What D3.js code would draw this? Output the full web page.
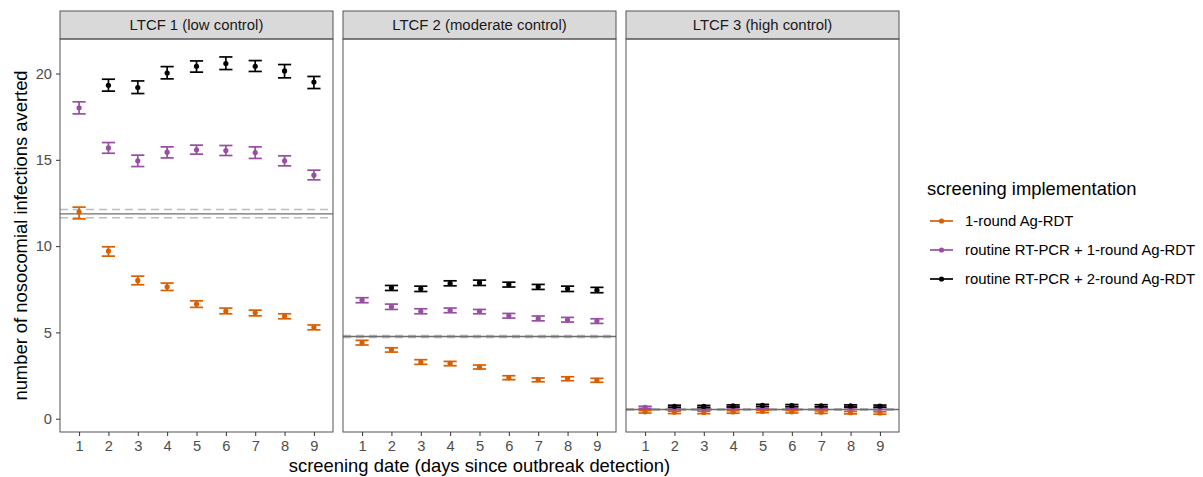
<!DOCTYPE html>
<html>
<head>
<meta charset="utf-8">
<script src="https://cdn.jsdelivr.net/npm/d3@7"></script>
<style>
  body { margin: 0; background: #fff; }
  svg { font-family: "Liberation Sans", Arial, sans-serif; }
</style>
</head>
<body>
<div id="chart"></div>
<script>

var days = [1, 2, 3, 4, 5, 6, 7, 8, 9];
var facets = ["LTCF 1 (low control)", "LTCF 2 (moderate control)", "LTCF 3 (high control)"];
var seriesNames = ["1-round Ag-RDT", "routine RT-PCR + 1-round Ag-RDT", "routine RT-PCR + 2-round Ag-RDT"];
var seriesColors = ["#D95F02", "#984EA3", "#000000"];
var yTicks = [0, 5, 10, 15, 20];

// reference lines per facet: solid (baseline), dashed (interval)
var refMid = [11.87, 4.76, 0.53];
var refLo = [11.64, 4.71, 0.49];
var refHi = [12.12, 4.82, 0.57];

// LTCF 1
var f1_rdt1 = [11.97, 9.71, 8.01, 7.64, 6.64, 6.24, 6.14, 5.95, 5.29];
var f1_rdt1_lo = [11.58, 9.42, 7.76, 7.43, 6.45, 6.08, 5.96, 5.79, 5.15];
var f1_rdt1_hi = [12.26, 9.96, 8.26, 7.86, 6.83, 6.41, 6.29, 6.08, 5.43];
var f1_pcr1 = [18.01, 15.69, 14.94, 15.44, 15.58, 15.54, 15.42, 14.94, 14.11];
var f1_pcr1_lo = [17.66, 15.38, 14.61, 15.11, 15.33, 15.25, 15.08, 14.65, 13.84];
var f1_pcr1_hi = [18.36, 16.00, 15.27, 15.75, 15.85, 15.83, 15.75, 15.23, 14.40];
var f1_pcr2 = [null, 19.32, 19.19, 20.03, 20.42, 20.58, 20.42, 20.15, 19.51];
var f1_pcr2_lo = [null, 18.98, 18.84, 19.69, 20.08, 20.23, 20.12, 19.75, 19.13];
var f1_pcr2_hi = [null, 19.67, 19.57, 20.40, 20.73, 20.96, 20.75, 20.52, 19.83];

// LTCF 2
var f2_rdt1 = [4.40, 4.00, 3.28, 3.21, 2.99, 2.37, 2.26, 2.32, 2.22];
var f2_rdt1_lo = [4.27, 3.86, 3.15, 3.07, 2.88, 2.26, 2.14, 2.20, 2.11];
var f2_rdt1_hi = [4.54, 4.11, 3.42, 3.32, 3.11, 2.49, 2.36, 2.43, 2.34];
var f2_pcr1 = [6.87, 6.49, 6.22, 6.28, 6.22, 5.96, 5.81, 5.73, 5.66];
var f2_pcr1_lo = [6.72, 6.33, 6.08, 6.14, 6.08, 5.83, 5.67, 5.60, 5.52];
var f2_pcr1_hi = [7.01, 6.64, 6.37, 6.41, 6.33, 6.10, 5.95, 5.87, 5.79];
var f2_pcr2 = [null, 7.59, 7.53, 7.84, 7.88, 7.78, 7.64, 7.53, 7.45];
var f2_pcr2_lo = [null, 7.43, 7.37, 7.70, 7.72, 7.63, 7.49, 7.37, 7.30];
var f2_pcr2_hi = [null, 7.72, 7.68, 7.99, 8.03, 7.91, 7.78, 7.68, 7.61];

// LTCF 3
var f3_rdt1 = [0.40, 0.37, 0.36, 0.39, 0.42, 0.40, 0.38, 0.35, 0.33];
var f3_rdt1_lo = [0.33, 0.30, 0.29, 0.32, 0.35, 0.33, 0.31, 0.28, 0.26];
var f3_rdt1_hi = [0.47, 0.44, 0.43, 0.46, 0.49, 0.47, 0.45, 0.42, 0.40];
var f3_pcr1 = [0.66, 0.60, 0.59, 0.62, 0.64, 0.63, 0.62, 0.61, 0.60];
var f3_pcr1_lo = [0.60, 0.54, 0.53, 0.56, 0.58, 0.57, 0.56, 0.55, 0.54];
var f3_pcr1_hi = [0.72, 0.66, 0.65, 0.68, 0.70, 0.69, 0.68, 0.67, 0.66];
var f3_pcr2 = [null, 0.72, 0.71, 0.74, 0.77, 0.76, 0.75, 0.74, 0.73];
var f3_pcr2_lo = [null, 0.66, 0.65, 0.68, 0.71, 0.70, 0.69, 0.68, 0.67];
var f3_pcr2_hi = [null, 0.78, 0.77, 0.80, 0.83, 0.82, 0.81, 0.80, 0.79];

// table: facet -> series -> [mean, lo, hi]
var table = [
	[[f1_rdt1, f1_rdt1_lo, f1_rdt1_hi], [f1_pcr1, f1_pcr1_lo, f1_pcr1_hi], [f1_pcr2, f1_pcr2_lo, f1_pcr2_hi]],
	[[f2_rdt1, f2_rdt1_lo, f2_rdt1_hi], [f2_pcr1, f2_pcr1_lo, f2_pcr1_hi], [f2_pcr2, f2_pcr2_lo, f2_pcr2_hi]],
	[[f3_rdt1, f3_rdt1_lo, f3_rdt1_hi], [f3_pcr1, f3_pcr1_lo, f3_pcr1_hi], [f3_pcr2, f3_pcr2_lo, f3_pcr2_hi]]
];

/*
 *	LAYOUT
 */
var width = 1203, height = 477;
var panelLeft = [60, 343, 626], panelW = 273;
var stripTop = 11, panelTop = 39, panelBottom = 432;

var svg = d3.select("#chart").append("svg")
	.attr("width", width)
	.attr("height", height);

var yScale = d3.scaleLinear()
	.domain([-0.77, 22.0])
	.range([panelBottom, panelTop]);

facets.forEach(function(name, f) {
	var x0 = panelLeft[f];
	var xScale = d3.scaleLinear()
		.domain([0.35, 9.65])
		.range([x0, x0 + panelW]);
	var bw = xScale(0.225) - xScale(0);

	var g = svg.append("g").attr("class", "panel");

	// strip
	g.append("rect")
		.attr("x", x0).attr("y", stripTop)
		.attr("width", panelW).attr("height", panelTop - stripTop)
		.attr("fill", "#D9D9D9").attr("stroke", "#555").attr("stroke-width", 1);
	g.append("text")
		.attr("x", x0 + panelW / 2).attr("y", (stripTop + panelTop) / 2 + 5)
		.attr("text-anchor", "middle")
		.style("font-size", "14.9px").style("fill", "#1A1A1A")
		.text(name);

	// reference lines
	g.append("line")
		.attr("x1", x0).attr("x2", x0 + panelW)
		.attr("y1", yScale(refLo[f])).attr("y2", yScale(refLo[f]))
		.attr("stroke", "#BDBDBD").attr("stroke-width", 1.6).attr("stroke-dasharray", "8,5");
	g.append("line")
		.attr("x1", x0).attr("x2", x0 + panelW)
		.attr("y1", yScale(refHi[f])).attr("y2", yScale(refHi[f]))
		.attr("stroke", "#BDBDBD").attr("stroke-width", 1.6).attr("stroke-dasharray", "8,5");
	g.append("line")
		.attr("x1", x0).attr("x2", x0 + panelW)
		.attr("y1", yScale(refMid[f])).attr("y2", yScale(refMid[f]))
		.attr("stroke", "#6E6E6E").attr("stroke-width", 1.4);

	// series: error bars + points
	table[f].forEach(function(s, k) {
		var rows = days.map(function(d, i) {
			return { day: d, m: s[0][i], lo: s[1][i], hi: s[2][i] };
		}).filter(function(r) { return r.m !== null; });

		var sg = g.append("g").attr("stroke", seriesColors[k]).attr("fill", seriesColors[k]);

		sg.selectAll("line.v").data(rows).enter().append("line")
			.attr("x1", function(d) { return xScale(d.day); })
			.attr("x2", function(d) { return xScale(d.day); })
			.attr("y1", function(d) { return yScale(d.lo); })
			.attr("y2", function(d) { return yScale(d.hi); })
			.attr("stroke-width", 1.7);
		sg.selectAll("line.lo").data(rows).enter().append("line")
			.attr("x1", function(d) { return xScale(d.day) - bw; })
			.attr("x2", function(d) { return xScale(d.day) + bw; })
			.attr("y1", function(d) { return yScale(d.lo); })
			.attr("y2", function(d) { return yScale(d.lo); })
			.attr("stroke-width", 1.7);
		sg.selectAll("line.hi").data(rows).enter().append("line")
			.attr("x1", function(d) { return xScale(d.day) - bw; })
			.attr("x2", function(d) { return xScale(d.day) + bw; })
			.attr("y1", function(d) { return yScale(d.hi); })
			.attr("y2", function(d) { return yScale(d.hi); })
			.attr("stroke-width", 1.7);
		sg.selectAll("circle").data(rows).enter().append("circle")
			.attr("cx", function(d) { return xScale(d.day); })
			.attr("cy", function(d) { return yScale(d.m); })
			.attr("r", 2.6)
			.attr("stroke", "none");
	});

	// panel border
	g.append("rect")
		.attr("x", x0).attr("y", panelTop)
		.attr("width", panelW).attr("height", panelBottom - panelTop)
		.attr("fill", "none").attr("stroke", "#555").attr("stroke-width", 1);

	// x axis
	var xAxis = d3.axisBottom(xScale).tickValues(days).tickSize(4).tickPadding(5);
	var xg = svg.append("g")
		.attr("class", "x axis")
		.attr("transform", "translate(0," + panelBottom + ")")
		.call(xAxis);
	xg.select(".domain").remove();
	xg.selectAll(".tick line").attr("stroke", "#333").attr("stroke-width", 1);
	xg.selectAll(".tick text").attr("fill", "#4D4D4D").style("font-size", "14.7px").attr("font-family", null);

	// y axis only on the first panel
	if (f === 0) {
		var yAxis = d3.axisLeft(yScale).tickValues(yTicks).tickSize(4).tickPadding(4);
		var yg = svg.append("g")
			.attr("class", "y axis")
			.attr("transform", "translate(" + x0 + ",0)")
			.call(yAxis);
		yg.select(".domain").remove();
		yg.selectAll(".tick line").attr("stroke", "#333").attr("stroke-width", 1);
		yg.selectAll(".tick text").attr("fill", "#4D4D4D").style("font-size", "14.7px").attr("font-family", null);
	}
});

// axis titles
svg.append("text")
	.attr("text-anchor", "middle")
	.attr("transform", "translate(21," + ((panelTop + panelBottom) / 2) + ") rotate(-90)")
	.attr("dy", "0.35em")
	.style("font-size", "18.4px").style("fill", "#000")
	.text("number of nosocomial infections averted");

svg.append("text")
	.attr("x", (panelLeft[0] + panelLeft[2] + panelW) / 2)
	.attr("y", 472)
	.attr("text-anchor", "middle")
	.style("font-size", "18.4px").style("fill", "#000")
	.text("screening date (days since outbreak detection)");

// legend
var legend = svg.append("g").attr("transform", "translate(927,0)");
legend.append("text")
	.attr("x", 0).attr("y", 195)
	.style("font-size", "18.4px").style("fill", "#000")
	.text("screening implementation");

var legendY = [221, 250, 279];
seriesNames.forEach(function(name, k) {
	legend.append("line")
		.attr("x1", 3).attr("x2", 26)
		.attr("y1", legendY[k]).attr("y2", legendY[k])
		.attr("stroke", seriesColors[k]).attr("stroke-width", 1.7);
	legend.append("circle")
		.attr("cx", 14.5).attr("cy", legendY[k]).attr("r", 2.6)
		.attr("fill", seriesColors[k]);
	legend.append("text")
		.attr("x", 38).attr("y", legendY[k] + 5)
		.style("font-size", "14.9px").style("fill", "#000")
		.text(name);
});

</script>
</body>
</html>
